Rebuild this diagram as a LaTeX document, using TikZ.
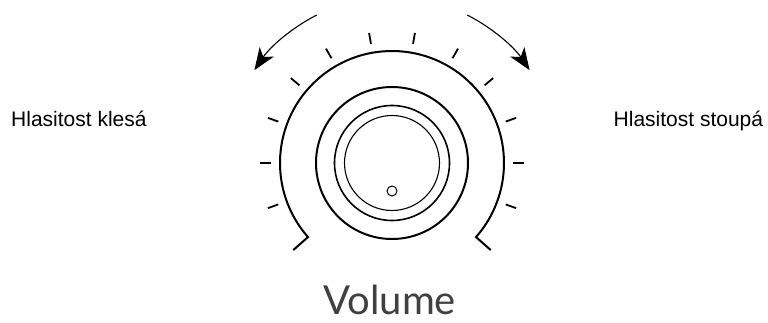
\documentclass[tikz,border=0pt]{standalone}
\usepackage{fontspec}
\setmainfont{Liberation Sans}
\newfontfamily\volfont{Lato}
\usetikzlibrary{arrows.meta,calc}
\begin{document}
\begin{tikzpicture}[x=1pt,y=1pt,
  tickmark/.style={line width=1.8pt},
  ring/.style={line width=#1},
  turnarrow/.style={line width=1.1pt,-{Stealth[length=22pt,width=17pt,inset=6pt]}},
  sidelabel/.style={inner sep=0pt,font=\fontsize{21}{24}\selectfont}
]
\useasboundingbox (0,0) rectangle (768,322);
\coordinate (C) at (392,159);
% outer open arc with hooks
\draw[line width=2pt,line join=miter] ($(C)+(221.4:131.6)$) -- ($(C)+(221.4:112)$)
  arc[start angle=221.4,end angle=-41.4,radius=112] -- ($(C)+(-41.4:131.6)$);
% rings
\draw[ring=2pt] (C) circle[radius=76];
\draw[ring=1.6pt] (C) circle[radius=57.5];
\draw[ring=1.1pt] (C) circle[radius=47.5];
\draw[ring=1pt] ($(C)+(0,-28)$) circle[radius=5];
% ticks
\foreach \a in {100,120,140,160,180,200,80,60,40,20,0,-20}
  \draw[tickmark] ($(C)+(\a:121)$) -- ($(C)+(\a:132)$);
% arrows
\draw[turnarrow] ($(C)+(117:166)$) arc[start angle=117,end angle=146,radius=166];
\draw[turnarrow] ($(C)+(63:166)$) arc[start angle=63,end angle=34,radius=166];
% labels
\node[sidelabel,anchor=base west] (dec) at (11,195.3) {Hlasitost klesá};
\node[sidelabel,anchor=base east] (inc) at (763.3,195.3) {Hlasitost stoupá};
\node[inner sep=0pt,anchor=base,text depth=0pt,font=\volfont\fontsize{40}{44}\selectfont,text=black!75] (vol) at (389.7,8) {Volume};
\end{tikzpicture}
\end{document}
